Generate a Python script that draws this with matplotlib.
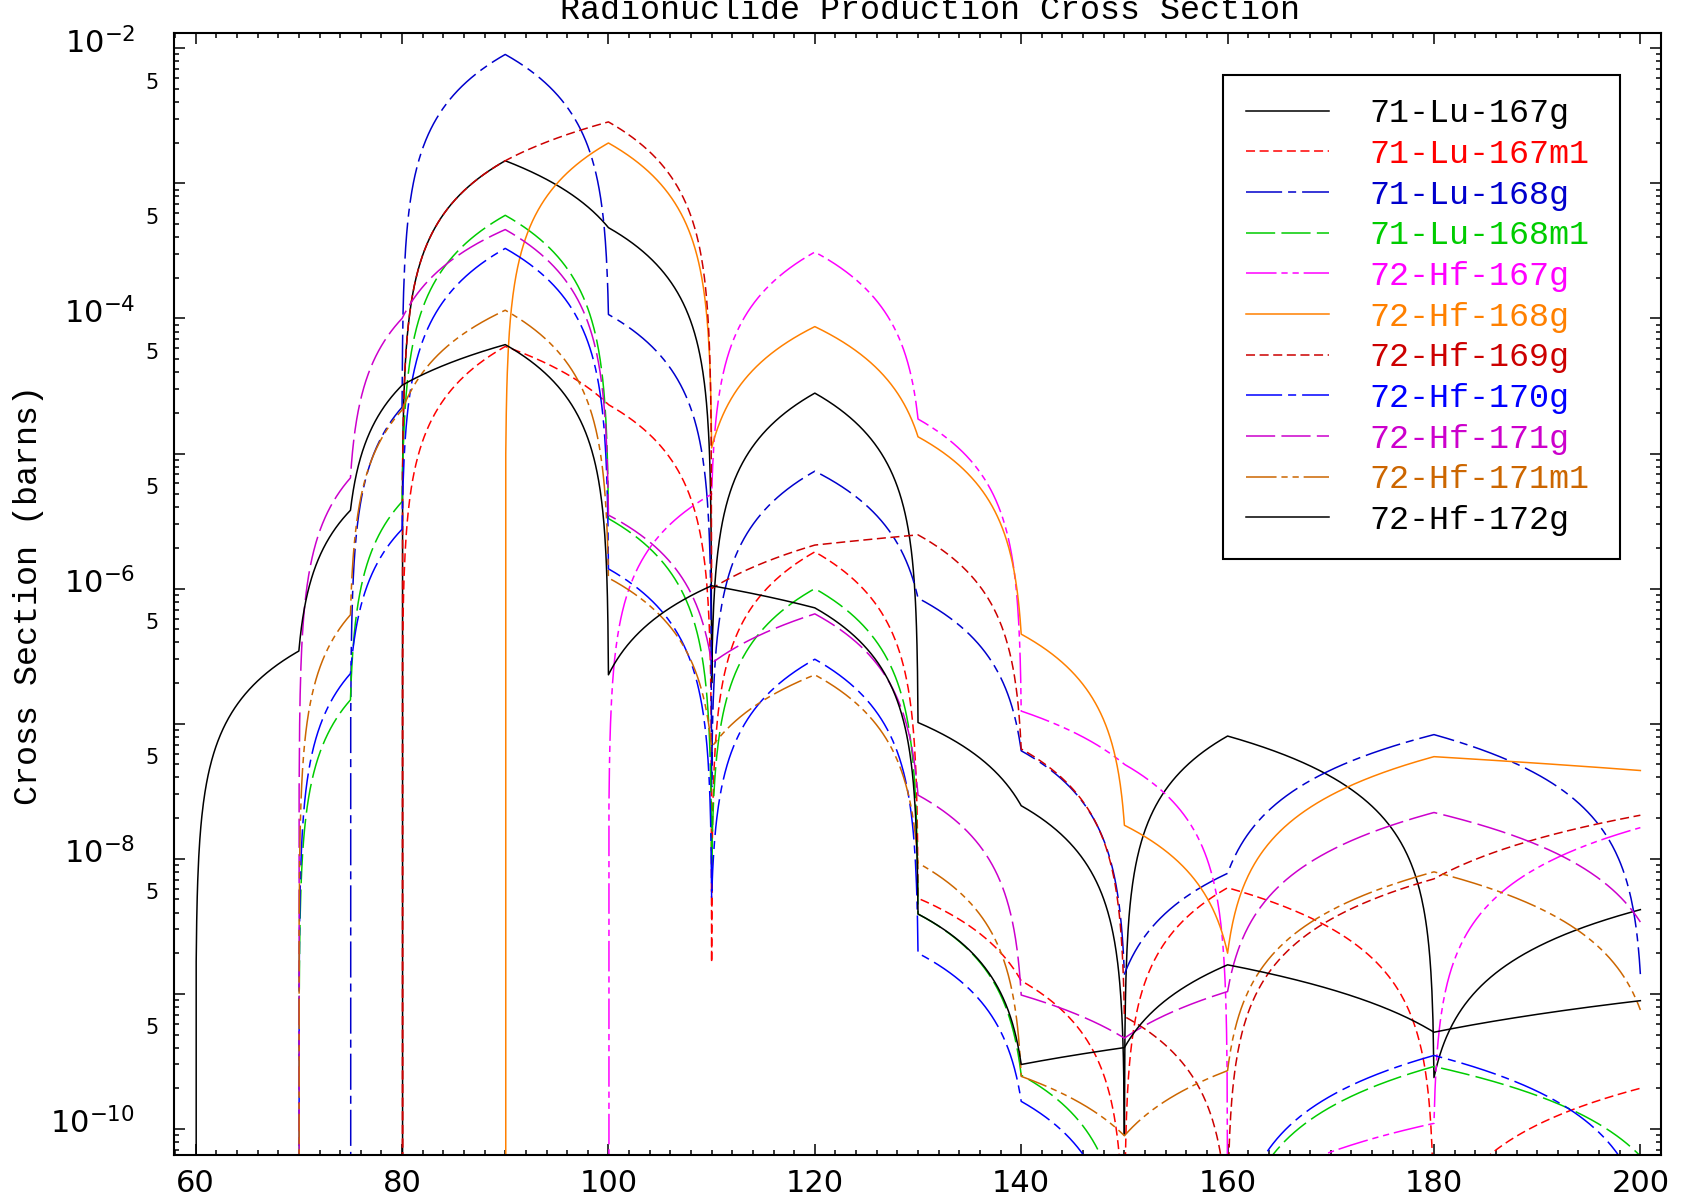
import numpy as np
import matplotlib
matplotlib.use("Agg")
from matplotlib import pyplot as plt
from matplotlib import ticker
from matplotlib import path as mpath
from matplotlib import transforms as mtransforms
from matplotlib.font_manager import FontProperties

# incident energies of the tabulated points
energy = [60, 70, 75, 80, 90, 100, 110, 120, 130, 140, 150, 160, 180, 200]

# cross sections (barns), one list per product
lu167g = [0, 0, 0, 0, 1.47e-3, 4.7e-4, 2e-7, 2.8e-5, 1.02e-7, 2.47e-8, 9e-11, 8.1e-8, 2.4e-10, 4.2e-9]
lu167m1 = [0, 0, 0, 0, 6.2e-5, 2.3e-5, 1.7e-9, 1.87e-6, 5.1e-9, 1.25e-9, 1e-12, 6.1e-9, 1.4e-11, 2.0e-10]
lu168g = [0, 0, 0, 2.2e-5, 9.0e-3, 1.07e-4, 3.4e-8, 7.4e-6, 8.5e-7, 6.3e-8, 1.4e-9, 7.8e-9, 8.3e-8, 1.4e-9]
lu168m1 = [0, 0, 1.5e-7, 4.4e-6, 5.8e-4, 3.3e-6, 8.5e-9, 1.0e-6, 3.9e-9, 2.5e-10, 8e-12, 1e-12, 2.9e-10, 6.3e-11]
hf167g = [0, 0, 0, 0, 0, 0, 5.0e-6, 3.1e-4, 1.8e-5, 1.24e-7, 5.0e-8, 2.5e-11, 1.1e-10, 1.7e-8]
hf168g = [0, 0, 0, 0, 0, 1.99e-3, 1.1e-5, 8.7e-5, 1.33e-5, 4.6e-7, 1.77e-8, 2.0e-9, 5.7e-8, 4.5e-8]
hf169g = [0, 0, 0, 0, 1.47e-3, 2.85e-3, 1.0e-6, 2.1e-6, 2.5e-6, 6.5e-8, 6.8e-10, 2e-11, 7.1e-9, 2.1e-8]
hf170g = [0, 0, 2.35e-7, 2.75e-6, 3.3e-4, 1.4e-6, 5.2e-9, 3.0e-7, 2.0e-9, 1.6e-10, 1e-12, 1e-12, 3.5e-10, 3e-11]
hf171g = [0, 0, 6.6e-6, 1.0e-4, 4.55e-4, 3.5e-6, 2.8e-7, 6.5e-7, 2.96e-8, 9.8e-10, 4.7e-10, 1.04e-9, 2.2e-8, 3.4e-9]
hf171m1 = [0, 0, 6.4e-7, 2.1e-5, 1.15e-4, 1.2e-6, 6.7e-8, 2.3e-7, 9.3e-9, 2.45e-10, 8.9e-11, 2.7e-10, 8.0e-9, 7.6e-10]
hf172g = [0, 3.45e-7, 3.8e-6, 3.2e-5, 6.4e-5, 2.3e-7, 1.05e-6, 7.2e-7, 3.9e-9, 3.0e-10, 4.0e-10, 1.64e-9, 5.2e-10, 8.9e-10]

names = ["71-Lu-167g", "71-Lu-167m1", "71-Lu-168g", "71-Lu-168m1", "72-Hf-167g",
         "72-Hf-168g", "72-Hf-169g", "72-Hf-170g", "72-Hf-171g", "72-Hf-171m1", "72-Hf-172g"]
series = [lu167g, lu167m1, lu168g, lu168m1, hf167g, hf168g, hf169g, hf170g, hf171g, hf171m1, hf172g]

colors = ["#000000", "#ff0000", "#0000cc", "#00cc00", "#ff00ff",
          "#ff8000", "#cc0000", "#0000ff", "#cc00cc", "#cc6600", "#000000"]

# idl style line styles: solid, dashed, dash dot, long dash, dash dot dot
solid = "-"
dashed = (0, (6.5, 3.3))
dashdot = (0, (26, 4.3, 5.8, 4.3))
longdash = (0, (21, 4.5))
dashdotdot = (0, (22, 3.5, 4.5, 3.5, 4.5, 3.5))
styles = [solid, dashed, dashdot, longdash, dashdotdot,
          solid, dashed, dashdot, longdash, dashdotdot, solid]

plt.rcParams['lines.scale_dashes'] = False
mono = FontProperties(family='Liberation Mono', size=24)

fig = plt.figure(figsize=(16.84, 12.01), dpi=100)
ax = fig.add_axes([174 / 1684, 1 - 1155 / 1201, 1487 / 1684, 1122 / 1201])

for xs, name, c, ls in zip(series, names, colors, styles):
    # the table is lin-lin between energies, so let the path be
    # subdivided before it goes onto the log axis (as in the original)
    p = mpath.Path(np.column_stack([energy, xs])).interpolated(200)
    ax.plot(p.vertices[:, 0], p.vertices[:, 1], color=c, linestyle=ls,
            lw=1.1, label=name)

ax.set_yscale('log', nonpositive='clip')
ax.set_xlim(57.9, 202.0)
ax.set_ylim(10 ** -10.193, 10 ** -1.887)

ax.xaxis.set_major_locator(ticker.MultipleLocator(20))
ax.xaxis.set_minor_locator(ticker.MultipleLocator(2))
ax.yaxis.set_major_locator(ticker.FixedLocator(10.0 ** np.arange(-10, -1)))
ax.yaxis.set_minor_locator(ticker.FixedLocator(
    [m * 10.0 ** e for e in range(-11, -1) for m in range(2, 10)
     if 10 ** -10.193 < m * 10.0 ** e < 10 ** -1.887]))


def major_fmt(v, pos):
    e = int(round(np.log10(v)))
    if e % 2 == 0:
        return r'$10^{%d}$' % e
    return ''


def minor_fmt(v, pos):
    m = v / 10 ** np.floor(np.log10(v) + 1e-9)
    if abs(m - 5) < 0.01:
        return '5'
    return ''


ax.yaxis.set_major_formatter(ticker.FuncFormatter(major_fmt))
ax.yaxis.set_minor_formatter(ticker.FuncFormatter(minor_fmt))

ax.tick_params(which='both', direction='in', top=True, right=True, width=1.1)
ax.tick_params(which='major', length=8)
ax.tick_params(which='minor', length=3.8)
ax.tick_params(axis='x', which='major', labelsize=22, pad=10)
ax.tick_params(axis='y', which='major', labelsize=22, pad=28)
ax.tick_params(axis='y', which='minor', labelsize=15, pad=11)

# labels sit a little above their ticks, as in the original
lift = mtransforms.ScaledTranslation(0, 6 / 72, fig.dpi_scale_trans)
for t in ax.yaxis.get_major_ticks() + ax.yaxis.get_minor_ticks():
    t.label1.set_transform(t.label1.get_transform() + lift)

for s in ax.spines.values():
    s.set_linewidth(1.5)

leg = ax.legend(loc='upper left', bbox_to_anchor=(0.7052, 0.0, 0.2672, 0.9627),
                mode='expand', borderaxespad=0, prop=mono, fancybox=False,
                framealpha=1, edgecolor='black', handlelength=2.49,
                handletextpad=1.22, labelspacing=0.29, borderpad=0.7,
                labelcolor='linecolor')
leg.get_frame().set_linewidth(1.5)

fig.text(0.552, 1 - 19 / 1201, 'Radionuclide Production Cross Section',
         ha='center', va='baseline', fontproperties=mono)
fig.text(29 / 1684, 1 - 595 / 1201, 'Cross Section (barns)', rotation=90,
         ha='center', va='center', fontproperties=mono)

fig.savefig('out.png', dpi=100)
